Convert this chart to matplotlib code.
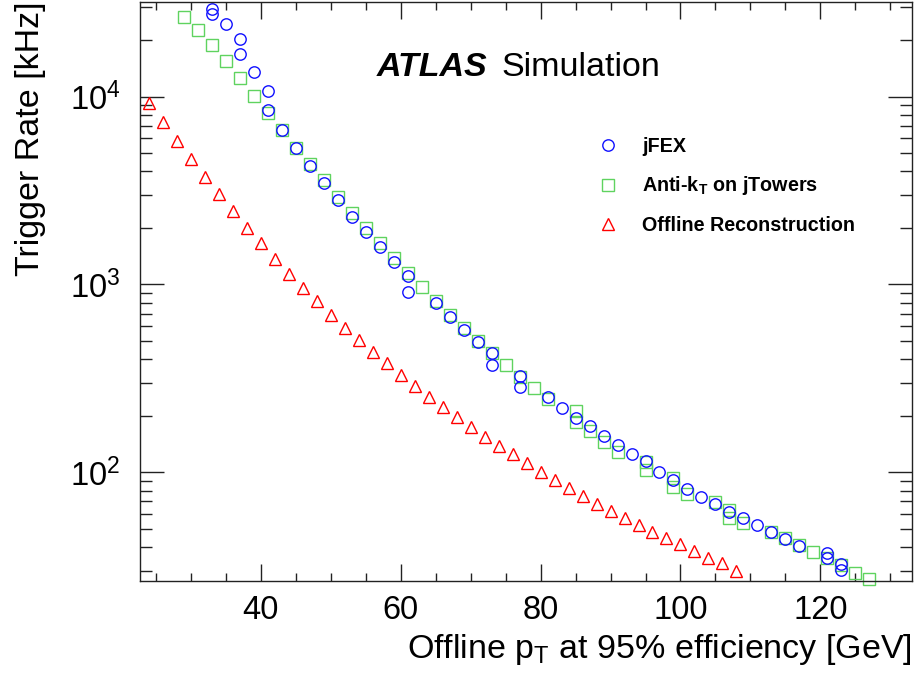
import matplotlib
matplotlib.use("Agg")
import matplotlib.pyplot as plt
from matplotlib.ticker import MultipleLocator, LogLocator, NullFormatter

plt.rcParams['font.family'] = ['Liberation Sans', 'DejaVu Sans']
plt.rcParams['mathtext.fontset'] = 'custom'
plt.rcParams['mathtext.rm'] = 'Liberation Sans'
plt.rcParams['mathtext.it'] = 'Liberation Sans:italic'
plt.rcParams['mathtext.bf'] = 'Liberation Sans:bold'

# jFEX trigger rates (kHz) vs offline pT (GeV)
jfex_pt = [33, 33, 35, 37, 37, 39, 41, 41, 43, 45, 47, 49, 51, 53, 55, 57, 59, 61, 61,
           65, 67, 69, 71, 73, 73, 77, 77, 81, 83, 85, 87, 89, 91, 93, 95, 97, 99,
           101, 103, 105, 107, 109, 111, 113, 115, 117, 121, 121, 123, 123]
jfex_rate = [29300, 27470, 24290, 20360, 16820, 13460, 10720, 8500, 6672, 5352, 4291,
             3485, 2818, 2296, 1897, 1578, 1313, 1103, 916, 794, 669, 572, 496, 430, 373,
             326, 286, 253, 221, 194, 177.5, 157, 139.8, 124.7, 114.9, 101, 91.5,
             81.8, 74.3, 68.2, 61.8, 57.1, 52.2, 48.3, 44.4, 40.5, 37.3, 34.8, 32.4, 30.2]

# anti-kT on jTowers
akt_pt = [29, 31, 33, 35, 37, 39, 41, 43, 45, 47, 49, 51, 53, 55, 57, 59, 61, 63, 65,
          67, 69, 71, 73, 75, 77, 79, 81, 85, 85, 87, 89, 91, 95, 95, 99, 99, 101,
          105, 107, 107, 109, 113, 115, 117, 119, 121, 123, 125, 127]
akt_rate = [26470, 22660, 18850, 15500, 12580, 10120, 8188, 6672, 5352, 4365, 3601,
            2935, 2412, 1992, 1657, 1379, 1158, 966, 817, 688, 585, 502, 430, 373, 323,
            280, 246, 212, 184.6, 165, 144.4, 127.8, 113.9, 102.9, 92.9, 83.2, 77.1,
            69.7, 63.0, 57.1, 53.5, 48.3, 44.5, 40.8, 37.8, 34.8, 32.1, 29.2, 27.0]

# offline reconstruction
off_pt = [24, 26, 28, 30, 32, 34, 36, 38, 40, 42, 44, 46, 48, 50, 52, 54, 56, 58, 60,
          62, 64, 66, 68, 70, 72, 74, 76, 78, 80, 82, 84, 86, 88, 90, 92, 94, 96, 98,
          100, 102, 104, 106, 108]
off_rate = [9200, 7290, 5810, 4640, 3735, 3033, 2454, 2000, 1653, 1367, 1144, 958, 812,
            688, 587, 506, 437, 380, 328, 288, 251, 222, 196, 175, 155, 138.6, 125.1,
            112.5, 100.7, 91.5, 82.5, 74.8, 67.8, 62.6, 57.4, 52.4, 48.3, 44.5, 41.4,
            38.1, 35.1, 32.8, 29.8]

fig = plt.figure(figsize=(9.17, 6.89), dpi=100)
ax = fig.add_axes([140/917, 108/689, 772/917, 579/689])

ms = 8.2
mew = 1.0
h2, = ax.plot(akt_pt, akt_rate, ls='none', marker='s', ms=ms, mfc='none', mec='#5fd35f',
              mew=mew, clip_on=False, label=r'Anti-k$_\mathbf{T}$ on jTowers')
h1, = ax.plot(jfex_pt, jfex_rate, ls='none', marker='o', ms=ms, mfc='none', mec='#1010ff',
              mew=mew, clip_on=False, label='jFEX')
h3, = ax.plot(off_pt, off_rate, ls='none', marker='^', ms=ms, mfc='none', mec='#ff0000',
              mew=mew, clip_on=False, label='Offline Reconstruction')

ax.set_yscale('log')
ax.set_xlim(22.73, 133.1)
ax.set_ylim(26.4, 31900)

ax.xaxis.set_major_locator(MultipleLocator(20))
ax.xaxis.set_minor_locator(MultipleLocator(5))
ax.yaxis.set_major_locator(LogLocator(base=10))
ax.yaxis.set_minor_locator(LogLocator(base=10, subs=range(2, 10)))
ax.yaxis.set_minor_formatter(NullFormatter())

ax.tick_params(axis='both', which='both', direction='in', top=True, right=True,
               color='#222222', width=1.0, labelsize=23.5)
ax.tick_params(axis='x', which='major', length=12, pad=10)
ax.tick_params(axis='x', which='minor', length=6)
ax.tick_params(axis='y', which='major', length=17, pad=14)
ax.tick_params(axis='y', which='minor', length=8.5)
for s in ax.spines.values():
    s.set_linewidth(1.0)
    s.set_color('#222222')

fig.text(31/917, 1 - 2/689, 'Trigger Rate [kHz]', rotation=90, ha='center', va='top',
         fontsize=24.5)
fig.text(912/917, (689-658)/689, r'Offline p$_{\mathrm{T}}$ at 95% efficiency [GeV]',
         ha='right', va='baseline', fontsize=24.5)

fig.text(377/917, (689-76)/689, 'ATLAS', fontsize=24.5, fontweight='bold',
         fontstyle='italic', ha='left', va='baseline')
fig.text(501/917, (689-76)/689, 'Simulation', fontsize=24.5, ha='left', va='baseline')

ax.legend(handles=[h1, h2, h3], loc='upper left', bbox_to_anchor=(0.593, 0.767),
          frameon=False, borderpad=0, borderaxespad=0, handlelength=1.0,
          handletextpad=1.25, labelspacing=0.94, prop={'weight': 'bold', 'size': 14.2})

fig.savefig('out.png', dpi=100)
